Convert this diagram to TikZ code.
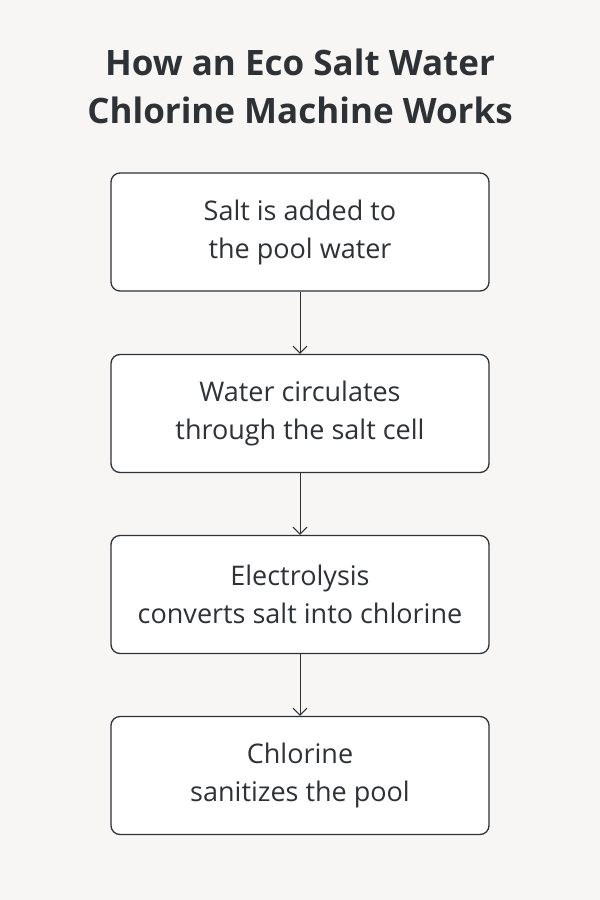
\documentclass[tikz,border=0pt]{standalone}
\usepackage{fontspec}
\setmainfont{Open Sans}
\usetikzlibrary{arrows.meta}
\definecolor{bg}{HTML}{F7F6F4}
\definecolor{ink}{HTML}{2E3236}
\tikzset{
  stepbox/.style={draw=ink,line width=1.3pt,rounded corners=9pt,fill=white,minimum width=378pt,minimum height=118pt,inner sep=0pt,align=center,font=\fontsize{27}{38}\selectfont,text=ink},
  conn/.style={draw=ink,line width=1pt,-{Straight Barb[length=7pt,width=14pt]}}
}
\begin{document}
\begin{tikzpicture}[x=1pt,y=-1pt]
\fill[bg] (0,0) rectangle (600,900);
\useasboundingbox (0,0) rectangle (600,900);
\node[text=ink,font=\fontsize{35}{48}\selectfont\bfseries,align=center] (title) at (300,86) {How an Eco Salt Water\\Chlorine Machine Works};
\node[stepbox] (b1) at (300,232) {Salt is added to\\the pool water};
\node[stepbox] (b2) at (300,413.5) {Water circulates\\through the salt cell};
\node[stepbox] (b3) at (300,594.5) {Electrolysis\\converts salt into chlorine};
\node[stepbox] (b4) at (300,775.5) {Chlorine\\sanitizes the pool};
\draw[conn] (b1) -- (b2);
\draw[conn] (b2) -- (b3);
\draw[conn] (b3) -- (b4);
\end{tikzpicture}
\end{document}
